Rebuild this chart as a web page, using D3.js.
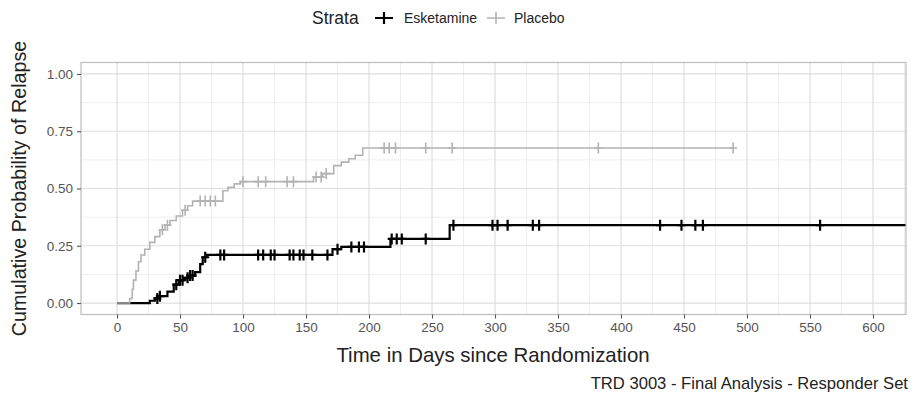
<!DOCTYPE html>
<html><head><meta charset="utf-8">
<script src="https://cdn.jsdelivr.net/npm/d3@7"></script>
<style>
html,body{margin:0;padding:0;background:#fff;}
svg{display:block;}
text{font-family:'Liberation Sans',Arial,sans-serif;}
</style></head>
<body>
<svg id="chart" width="914" height="396"></svg>
<script>
// ---- data ----
const strata = ["Esketamine", "Placebo"];
const esketamineTimes  = [0, 26, 30, 34, 40, 45, 49, 53, 58, 62, 66, 68, 71, 171, 178, 217, 264, 640];
const esketamineValues = [0, 0.01, 0.02, 0.03, 0.05, 0.08, 0.10, 0.11, 0.12, 0.135, 0.17, 0.20, 0.21, 0.235, 0.245, 0.28, 0.34, 0.34];
const esketamineCensor = [32, 34, 47, 50, 52, 56, 58, 60, 70, 82, 85, 112, 116, 122, 125, 137, 140, 145, 148, 155, 167, 175, 186, 192, 196, 218, 222, 226, 245, 267, 298, 302, 310, 330, 335, 431, 448, 459, 465, 558];
const placeboTimes  = [0, 10, 12, 13, 15, 17, 19, 22, 26, 30, 34, 38, 42, 47, 52, 56, 60, 84, 88, 93, 98, 156, 163, 172, 178, 184, 189, 195, 489];
const placeboValues = [0, 0.02, 0.06, 0.10, 0.14, 0.18, 0.21, 0.235, 0.265, 0.29, 0.32, 0.34, 0.36, 0.38, 0.405, 0.425, 0.445, 0.49, 0.505, 0.52, 0.53, 0.55, 0.565, 0.60, 0.615, 0.63, 0.645, 0.677, 0.677];
const placeboCensor = [36, 40, 54, 66, 70, 74, 78, 100, 112, 118, 135, 140, 158, 162, 166, 212, 216, 221, 245, 266, 382, 489];
const xTicks = [0, 50, 100, 150, 200, 250, 300, 350, 400, 450, 500, 550, 600];
const yTicks = [0, 0.25, 0.5, 0.75, 1];
const yTickLabels = ["0.00", "0.25", "0.50", "0.75", "1.00"];
const colors = {Esketamine: "#000000", Placebo: "#b3b3b3"};

// ---- layout ----
const svg = d3.select("#chart");
const P = {left: 81, right: 906, top: 62.5, bottom: 314.5};
const x = d3.scaleLinear().domain([-28.6, 626.2]).range([P.left, P.right]);
const y = d3.scaleLinear().domain([-0.05, 1.05]).range([P.bottom, P.top]);

svg.append("defs").append("clipPath").attr("id", "clip")
  .append("rect").attr("x", P.left).attr("y", P.top)
  .attr("width", P.right - P.left).attr("height", P.bottom - P.top);

// grid
const g = svg.append("g");
const minorX = d3.range(25, 626, 50);
const minorY = [0.125, 0.375, 0.625, 0.875];
g.selectAll(".mx").data(minorX).join("line")
  .attr("x1", d => x(d)).attr("x2", d => x(d)).attr("y1", P.top).attr("y2", P.bottom)
  .attr("stroke", "#eeeeee").attr("stroke-width", 1);
g.selectAll(".my").data(minorY).join("line")
  .attr("y1", d => y(d)).attr("y2", d => y(d)).attr("x1", P.left).attr("x2", P.right)
  .attr("stroke", "#eeeeee").attr("stroke-width", 1);
g.selectAll(".gx").data(xTicks).join("line")
  .attr("x1", d => x(d)).attr("x2", d => x(d)).attr("y1", P.top).attr("y2", P.bottom)
  .attr("stroke", "#dedede").attr("stroke-width", 1.2);
g.selectAll(".gy").data(yTicks).join("line")
  .attr("y1", d => y(d)).attr("y2", d => y(d)).attr("x1", P.left).attr("x2", P.right)
  .attr("stroke", "#dedede").attr("stroke-width", 1.2);

// curves
function stepVal(times, vals, t) {
  let v = vals[0];
  for (let i = 0; i < times.length; i++) { if (times[i] <= t) v = vals[i]; }
  return v;
}
const series = [
  {name: "Esketamine", times: esketamineTimes, vals: esketamineValues, cens: esketamineCensor, w: 2.2},
  {name: "Placebo", times: placeboTimes, vals: placeboValues, cens: placeboCensor, w: 1.6}
];
const line = d3.line().x(d => x(d[0])).y(d => y(d[1])).curve(d3.curveStepAfter);
const plot = svg.append("g").attr("clip-path", "url(#clip)");
series.forEach(s => {
  const pts = s.times.map((t, i) => [t, s.vals[i]]);
  plot.append("path").datum(pts).attr("d", line)
    .attr("fill", "none").attr("stroke", colors[s.name]).attr("stroke-width", s.w);
  const cg = plot.append("g");
  cg.selectAll("path").data(s.cens).join("path")
    .attr("d", t => {
      const cx = x(t), cy = y(stepVal(s.times, s.vals, t));
      return `M${cx - 4},${cy}H${cx + 4}M${cx},${cy - 5.5}V${cy + 5.5}`;
    })
    .attr("stroke", colors[s.name]).attr("stroke-width", s.w);
});

// panel border
svg.append("rect").attr("x", P.left).attr("y", P.top)
  .attr("width", P.right - P.left).attr("height", P.bottom - P.top)
  .attr("fill", "none").attr("stroke", "#bdbdbd").attr("stroke-width", 1.2);

// axes
const xAxis = svg.append("g").attr("transform", `translate(0,${P.bottom})`)
  .call(d3.axisBottom(x).tickValues(xTicks).tickSize(4).tickPadding(4).tickFormat(d3.format("d")));
const yAxis = svg.append("g").attr("transform", `translate(${P.left},0)`)
  .call(d3.axisLeft(y).tickValues(yTicks).tickSize(4).tickPadding(4).tickFormat((d, i) => yTickLabels[i]));
[xAxis, yAxis].forEach(a => {
  a.select(".domain").remove();
  a.selectAll(".tick line").attr("stroke", "#555").attr("stroke-width", 1.1);
  a.selectAll(".tick text").attr("fill", "#555").style("font-size", "13.5px");
});

// titles
svg.append("text").attr("x", 493).attr("y", 362)
  .attr("text-anchor", "middle").attr("fill", "#222").style("font-size", "20.4px")
  .text("Time in Days since Randomization");
svg.append("text").attr("transform", `translate(26,${(P.top + P.bottom) / 2}) rotate(-90)`)
  .attr("text-anchor", "middle").attr("fill", "#222").style("font-size", "19.7px")
  .text("Cumulative Probability of Relapse");
svg.append("text").attr("x", 908).attr("y", 389)
  .attr("text-anchor", "end").attr("fill", "#222").style("font-size", "16.6px")
  .text("TRD 3003 - Final Analysis - Responder Set");

// legend
const lg = svg.append("g");
lg.append("text").attr("x", 312).attr("y", 24).attr("fill", "#222").style("font-size", "17.5px").text("Strata");
const keys = [{name: "Esketamine", kx: 384, tx: 404, w: 2.2}, {name: "Placebo", kx: 496, tx: 514, w: 1.6}];
keys.forEach(k => {
  lg.append("path").attr("d", `M${k.kx - 9},18H${k.kx + 9}M${k.kx},12V24`)
    .attr("stroke", colors[k.name]).attr("stroke-width", k.w).attr("fill", "none");
  lg.append("text").attr("x", k.tx).attr("y", 23).attr("fill", "#222").style("font-size", "14px").text(k.name);
});
</script>
</body></html>
